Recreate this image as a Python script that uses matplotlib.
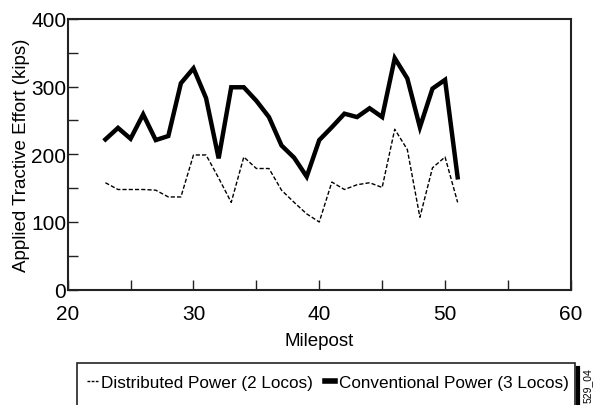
import matplotlib.pyplot as plt
from matplotlib.lines import Line2D
from matplotlib.patches import Rectangle

plt.rcParams['font.family'] = ['Liberation Sans', 'DejaVu Sans']

mileposts = list(range(23, 52))
conventional = [222, 239, 223, 259, 221, 227, 305, 327, 283, 194, 299, 299, 279, 255, 213,
                195, 167, 221, 240, 260, 255, 268, 255, 342, 312, 240, 297, 310, 166]
distributed = [158, 148, 148, 148, 147, 137, 137, 199, 199, 165, 129, 196, 179, 179, 147,
               129, 112, 100, 159, 148, 155, 158, 151, 237, 207, 107, 180, 196, 129]

labels = ['Distributed Power (2 Locos)', 'Conventional Power (3 Locos)']

fig = plt.figure(figsize=(5.99, 4.06), dpi=100)
ax = fig.add_axes([0.113, 0.284, 0.840, 0.667])

ax.plot(mileposts, distributed, color='black', lw=1.0, linestyle=(0, (3, 1.5)), label=labels[0])
ax.plot(mileposts, conventional, color='black', lw=3.2, solid_joinstyle='miter', label=labels[1])

ax.set_xlim(20, 60)
ax.set_ylim(0, 400)
ax.set_xticks(range(20, 61, 10))
ax.set_xticks(range(25, 60, 10), minor=True)
ax.set_yticks(range(0, 401, 100))
ax.set_yticks(range(50, 400, 100), minor=True)
ax.tick_params(which='both', direction='in', top=False, right=False, width=1.0, colors='#222222')
ax.tick_params(which='major', length=7, labelsize=15, labelcolor='black')
ax.tick_params(which='minor', length=7)
ax.tick_params(axis='x', pad=10)
ax.tick_params(axis='y', pad=1)
for s in ax.spines.values():
    s.set_linewidth(1.5)
    s.set_color('#222222')

ax.set_xlabel('Milepost', fontsize=13.5, labelpad=7)
ax.set_ylabel('Applied Tractive Effort (kips)', fontsize=13.5, labelpad=1)

# legend frame runs off the bottom edge, as in the source figure
fig.add_artist(Rectangle((0.1285, -0.02), 0.831, 0.1235, transform=fig.transFigure,
                         facecolor='none', edgecolor='#222222', lw=1.2))
handles = [Line2D([], [], color='black', lw=1.0, linestyle=(0, (2, 1))),
           Line2D([], [], color='black', lw=4)]
leg = fig.legend(handles, labels, loc='center left', bbox_to_anchor=(0.146, 0.055), ncol=2,
                 fontsize=12.3, frameon=False,
                 handlelength=0.6, handletextpad=0.2, columnspacing=0.7,
                 borderpad=0, borderaxespad=0)

fig.add_artist(Line2D([0.965, 0.965], [0.0, 0.092], color='black', lw=3))
fig.text(0.981, 0.05, '529_04', rotation=90, fontsize=7.5, ha='center', va='center')

fig.savefig('out.png', dpi=100)
